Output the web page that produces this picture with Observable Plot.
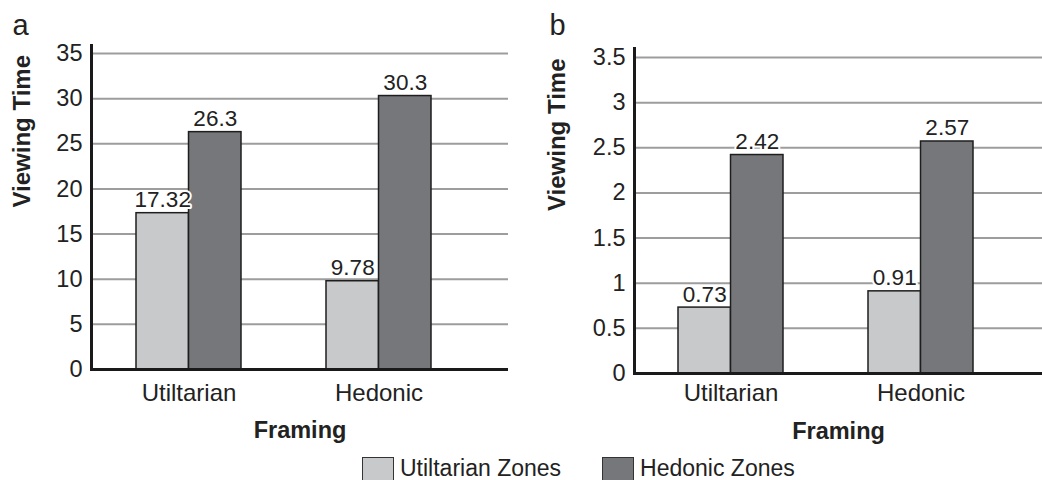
<!DOCTYPE html>
<html><head><meta charset="utf-8">
<script src="https://cdn.jsdelivr.net/npm/d3@7"></script>
<script src="https://cdn.jsdelivr.net/npm/@observablehq/plot@0.6"></script>
<style>
html,body{margin:0;padding:0;background:#fff;}
#wrap{position:relative;width:1042px;height:480px;overflow:hidden;font-family:"Liberation Sans",Arial,sans-serif;color:#222;}
#panels{display:flex;}
#legend{position:absolute;top:457px;left:362px;display:flex;align-items:flex-start;font-size:23px;}
.item{display:flex;align-items:flex-start;margin-right:41px;}
.sw{width:32px;height:26px;border:1px solid #333;box-sizing:border-box;margin-right:6px;}
.lt{line-height:22px;margin-top:0px;}
</style></head>
<body><div id="wrap"><div id="panels"></div><div id="legend"></div></div>
<script>
const framing = ["Utiltarian", "Hedonic"];
const zones = ["Utiltarian Zones", "Hedonic Zones"];
const zoneColors = ["#c8c9cb", "#76777a"];

// Panel a
const utilA = [17.32, 9.78];
const hedA = [26.3, 30.3];
const ticksA = [0, 5, 10, 15, 20, 25, 30, 35];
// Panel b
const utilB = [0.73, 0.91];
const hedB = [2.42, 2.57];
const ticksB = [0, 0.5, 1, 1.5, 2, 2.5, 3, 3.5];

function panel({letter, util, hed, ticks, yMax, width, height, ml, mr, mt, mb, xRange, xPad, titleDx, framingDy, letterDx, letterDy}) {
  const rows = framing.map((f, i) => ({framing: f, util: util[i], hed: hed[i]}));
  const band = (xRange[1] - xRange[0]) * (1 - 0.45) / (2 - 0.45);
  const half = band / 2;
  const valueText = {lineAnchor: "bottom", dy: -6, fontSize: 22.5, fill: "#222", stroke: "white", strokeWidth: 4, paintOrder: "stroke"};
  return Plot.plot({
    width, height,
    marginLeft: ml, marginRight: mr, marginTop: mt, marginBottom: mb,
    style: {fontFamily: "'Liberation Sans', Arial, sans-serif", fontSize: "23px", color: "#222", background: "#fff"},
    x: {domain: framing, range: xRange, paddingInner: 0.45, paddingOuter: 0, axis: null},
    y: {domain: [0, yMax], axis: null},
    marks: [
      Plot.ruleY(ticks.slice(1), {stroke: "#9d9d9d", strokeWidth: 2}),
      Plot.barY(rows, {x: "framing", y: "util", fill: zoneColors[0], stroke: "#1e1e1e", strokeWidth: 1.5, insetRight: half}),
      Plot.barY(rows, {x: "framing", y: "hed", fill: zoneColors[1], stroke: "#1e1e1e", strokeWidth: 1.5, insetLeft: half}),
      Plot.text(rows, {x: "framing", y: "util", text: d => String(d.util), dx: -half / 2, ...valueText}),
      Plot.text(rows, {x: "framing", y: "hed", text: d => String(d.hed), dx: half / 2, ...valueText}),
      Plot.axisY({ticks, tickSize: 0, tickPadding: 9, tickFormat: d => String(d), label: null, fontSize: 23.5, fill: "#222"}),
      Plot.axisX({tickSize: 0, tickPadding: xPad, label: null, fontSize: 24, fill: "#222"}),
      Plot.frame({anchor: "left", stroke: "#1a1a1a", strokeWidth: 3}),
      Plot.ruleY([0], {stroke: "#1a1a1a", strokeWidth: 3}),
      Plot.text(["Viewing Time"], {frameAnchor: "left", rotate: -90, dx: titleDx, fontWeight: "bold", fontSize: 24, fill: "#222"}),
      Plot.text(["Framing"], {frameAnchor: "bottom", dy: framingDy, fontWeight: "bold", fontSize: 23.5, fill: "#222"}),
      Plot.text([letter], {frameAnchor: "top-left", textAnchor: "start", lineAnchor: "bottom", dx: letterDx, dy: letterDy, fontSize: 29, fill: "#222"})
    ]
  });
}

const H = 456;
const pa = panel({letter: "a", util: utilA, hed: hedA, ticks: ticksA, yMax: 35.9, width: 520, height: H,
  ml: 91, mr: 12, mt: 45, mb: H - 369, xRange: [135, 431], xPad: 14, titleDx: -69, framingDy: 68, letterDx: -79, letterDy: -11});
const pb = panel({letter: "b", util: utilB, hed: hedB, ticks: ticksB, yMax: 3.6, width: 522, height: H,
  ml: 114, mr: 0, mt: 48, mb: H - 373, xRange: [157, 453], xPad: 10, titleDx: -77, framingDy: 65, letterDx: -85, letterDy: -14});
document.getElementById("panels").append(pa, pb);

const legend = document.getElementById("legend");
zones.forEach((z, i) => {
  const item = document.createElement("div");
  item.className = "item";
  const sw = document.createElement("div");
  sw.className = "sw";
  sw.style.background = zoneColors[i];
  const t = document.createElement("div");
  t.className = "lt";
  t.textContent = z;
  item.append(sw, t);
  legend.append(item);
});
</script></body></html>
